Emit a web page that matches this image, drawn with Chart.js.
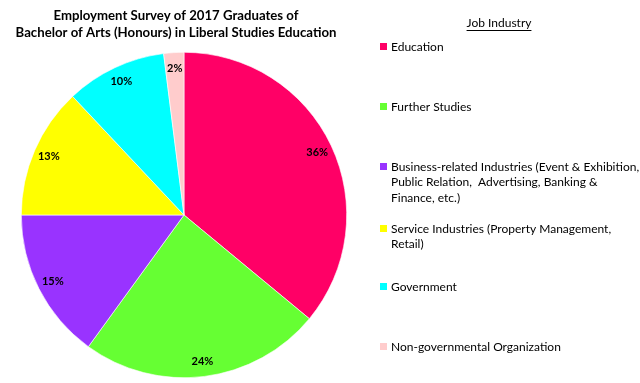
<!DOCTYPE html>
<html>
<head>
<meta charset="utf-8">
<script src="https://cdn.jsdelivr.net/npm/chart.js@4/dist/chart.umd.min.js"></script>
<style>
html,body{margin:0;padding:0;background:#fff;}
#c{display:block;}
</style>
</head>
<body>
<canvas id="c" width="640" height="383"></canvas>
<script>
const titleLines = ['Employment Survey of 2017 Graduates of', 'Bachelor of Arts (Honours) in Liberal Studies Education'];
const legendTitle = 'Job Industry';
const categories = [
  'Education',
  'Further Studies',
  'Business-related Industries (Event & Exhibition,\nPublic Relation,  Advertising, Banking &\nFinance, etc.)',
  'Service Industries (Property Management,\nRetail)',
  'Government',
  'Non-governmental Organization'
];
const shares = [36, 24, 15, 13, 10, 2];
const colors = ['#FF0066', '#66FF33', '#9933FF', '#FFFF00', '#00FFFF', '#FFCCCC'];

const FONT = 'Lato, "Open Sans", sans-serif';

const overlay = {
  id: 'overlay',
  afterDatasetsDraw(chart) {
    const ctx = chart.ctx;
    ctx.save();
    // data labels
    const meta = chart.getDatasetMeta(0);
    ctx.font = 'bold 11px ' + FONT;
    ctx.fillStyle = '#000';
    ctx.textAlign = 'center';
    ctx.textBaseline = 'middle';
    meta.data.forEach((arc, i) => {
      const p = arc.getProps(['x', 'y', 'startAngle', 'endAngle', 'outerRadius'], true);
      const mid = (p.startAngle + p.endAngle) / 2;
      const r = p.outerRadius * 0.905;
      ctx.fillText(shares[i] + '%', p.x + Math.cos(mid) * r, p.y + Math.sin(mid) * r);
    });
    // title
    ctx.font = 'bold 13.2px ' + FONT;
    ctx.fillText(titleLines[0], 176, 16);
    ctx.fillText(titleLines[1], 176, 33);
    // legend title
    ctx.font = '12px ' + FONT;
    ctx.fillText(legendTitle, 499, 23);
    const w = ctx.measureText(legendTitle).width;
    ctx.fillRect(499 - w / 2, 30, w, 1);
    // legend items
    const firstY = [47, 107, 167, 229, 287, 347];
    ctx.textAlign = 'left';
    categories.forEach((cat, i) => {
      const y0 = firstY[i];
      ctx.fillStyle = colors[i];
      ctx.fillRect(380, y0 - 4, 7, 7);
      ctx.fillStyle = '#000';
      cat.split('\n').forEach((line, j) => {
        ctx.fillText(line, 391, y0 + j * 15.5);
      });
    });
    ctx.restore();
  }
};

new Chart(document.getElementById('c'), {
  type: 'pie',
  data: {
    labels: categories,
    datasets: [{
      data: shares,
      backgroundColor: colors,
      borderColor: '#ffffff',
      borderWidth: 0.6
    }]
  },
  options: {
    responsive: false,
    animation: false,
    layout: { padding: { left: 21, right: 293, top: 52, bottom: 5 } },
    plugins: {
      legend: { display: false },
      tooltip: { enabled: false },
      title: { display: false }
    }
  },
  plugins: [overlay]
});
</script>
</body>
</html>
